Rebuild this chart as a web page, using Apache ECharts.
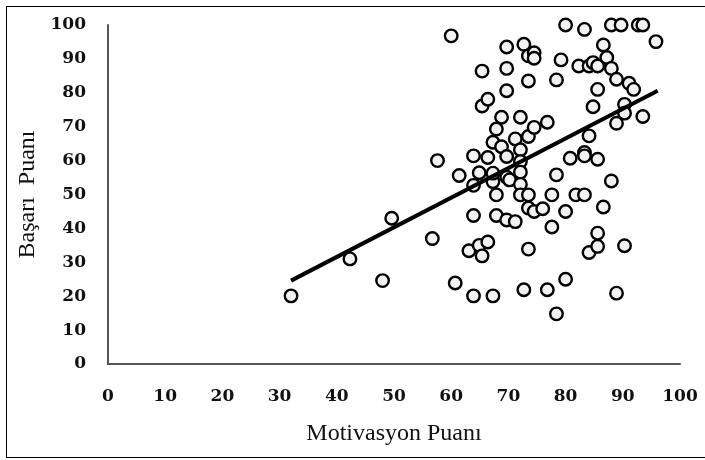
<!DOCTYPE html>
<html>
<head>
<meta charset="utf-8">
<script src="https://cdn.jsdelivr.net/npm/echarts@6/dist/echarts.min.js"></script>
<style>
  html, body { margin: 0; padding: 0; background: #fff; }
  #frame { position: absolute; left: 6px; top: 6px; width: 699px; height: 452px;
           border-left: 1.5px solid #000; border-top: 1.5px solid #000; border-bottom: 1.5px solid #000; box-sizing: border-box; }
  #chart { position: absolute; left: 0; top: 0; width: 705px; height: 460px; }
</style>
</head>
<body>
<div id="frame"></div>
<div id="chart"></div>
<script>
// Motivasyon Puanı (x) vs Başarı Puanı (y)
const motivasyon = [32.0, 42.3, 48.0, 49.6, 56.7, 57.6, 60.0, 60.7, 61.4, 63.1,
  63.9, 63.9, 63.9, 63.9, 64.9, 64.9, 65.4, 65.4, 65.4, 66.4,
  66.4, 66.4, 67.3, 67.3, 67.3, 67.3, 67.9, 67.9, 67.9, 68.8,
  68.8, 69.7, 69.7, 69.7, 69.7, 69.7, 69.7, 70.2, 71.2, 71.2,
  72.1, 72.1, 72.1, 72.1, 72.1, 72.1, 72.7, 72.7, 73.5, 73.5,
  73.5, 73.5, 73.5, 73.5, 74.5, 74.5, 74.5, 74.5, 76.0, 76.8,
  76.8, 77.6, 77.6, 78.4, 78.4, 78.4, 79.2, 80.0, 80.0, 80.0,
  80.8, 81.8, 82.3, 83.3, 83.3, 83.3, 83.3, 84.1, 84.1, 84.1,
  84.8, 84.8, 85.6, 85.6, 85.6, 85.6, 85.6, 86.6, 86.6, 87.2,
  88.0, 88.0, 88.0, 88.9, 88.9, 88.9, 89.7, 90.3, 90.3, 90.3,
  91.1, 91.9, 92.7, 93.5, 93.5, 95.8];
const basari = [20.1, 31.0, 24.6, 43.0, 37.0, 60.0, 96.8, 23.9, 55.6, 33.4,
  61.4, 52.7, 43.8, 20.1, 35.0, 56.4, 31.9, 86.4, 76.1, 78.1,
  36.0, 60.9, 20.1, 53.8, 56.3, 65.4, 69.3, 49.9, 43.8, 72.8,
  64.1, 93.5, 87.2, 80.6, 61.2, 55.1, 42.5, 54.3, 42.0, 66.4,
  72.8, 63.2, 59.7, 56.6, 53.0, 49.9, 94.3, 21.9, 90.9, 83.5,
  67.1, 49.9, 46.0, 33.9, 91.8, 90.2, 69.8, 45.0, 45.8, 71.3,
  21.9, 49.9, 40.4, 83.8, 55.8, 14.8, 89.7, 100, 45.0, 25.0,
  60.7, 49.9, 87.9, 98.7, 62.4, 61.4, 49.9, 87.9, 67.3, 32.9,
  88.9, 75.9, 87.9, 81.0, 60.4, 38.6, 34.7, 94.1, 46.3, 90.4,
  100, 87.2, 54.0, 84.0, 71.0, 20.9, 100, 76.6, 74.0, 34.9,
  82.8, 81.0, 100, 100, 73.0, 95.1];

// linear trend line end points
const trendX = [32, 96.1];
const trendY = [24.6, 80.6];

const xTicks = [0, 10, 20, 30, 40, 50, 60, 70, 80, 90, 100];
const yTicks = [0, 10, 20, 30, 40, 50, 60, 70, 80, 90, 100];

const chart = echarts.init(document.getElementById('chart'), null, { renderer: 'canvas' });

const serif = '"Liberation Serif", "Times New Roman", serif';
const tickFont = { fontFamily: '"DejaVu Serif", serif', fontWeight: 'bold', fontSize: 17, color: '#111' };

const points = motivasyon.map((x, i) => [x, basari[i]]);
const trend = trendX.map((x, i) => [x, trendY[i]]);

chart.setOption({
  animation: false,
  backgroundColor: 'transparent',
  grid: { left: 108, right: 25, top: 25, bottom: 96 },
  xAxis: {
    type: 'value', min: xTicks[0], max: xTicks[xTicks.length - 1], interval: 10,
    name: 'Motivasyon Puanı', nameLocation: 'middle', nameGap: 58,
    nameTextStyle: { fontFamily: serif, fontSize: 24, color: '#111' },
    axisLine: { show: true, lineStyle: { color: '#555', width: 2 } },
    axisTick: { show: false },
    splitLine: { show: false },
    axisLabel: Object.assign({ margin: 24 }, tickFont)
  },
  yAxis: {
    type: 'value', min: yTicks[0], max: yTicks[yTicks.length - 1], interval: 10,
    name: 'Başarı  Puanı', nameLocation: 'middle', nameGap: 68,
    nameTextStyle: { fontFamily: serif, fontSize: 24, color: '#111' },
    axisLine: { show: true, lineStyle: { color: '#555', width: 2 } },
    axisTick: { show: false },
    splitLine: { show: false },
    axisLabel: Object.assign({ margin: 22 }, tickFont)
  },
  series: [
    {
      type: 'scatter',
      data: points,
      symbol: 'circle',
      symbolSize: 12.5,
      itemStyle: { color: '#f2f2f2', borderColor: '#000', borderWidth: 2.4, opacity: 1 },
      z: 2
    },
    {
      type: 'line',
      data: trend,
      symbol: 'none',
      lineStyle: { color: '#000', width: 4 },
      z: 3
    }
  ]
});
</script>
</body>
</html>
